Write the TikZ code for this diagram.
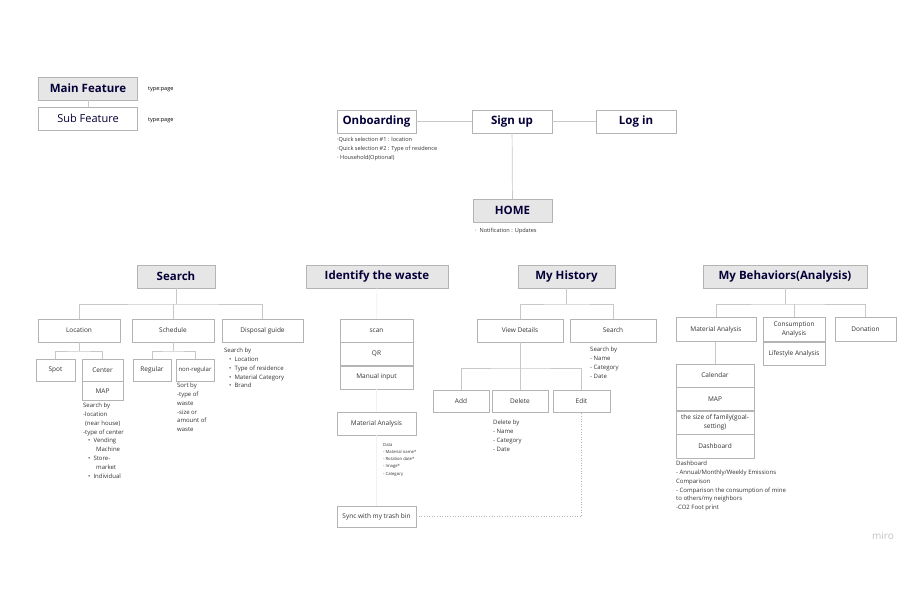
\documentclass[tikz,border=0pt]{standalone}
\usepackage{fontspec}
\setmainfont{Open Sans}
\usetikzlibrary{positioning}
\definecolor{headfill}{HTML}{E6E6E6}
\definecolor{boxgray}{HTML}{B4B4B4}
\definecolor{linegray}{HTML}{C8C8C8}
\definecolor{faintgray}{HTML}{F1F1F1}
\definecolor{navy}{HTML}{050038}
\definecolor{bodytext}{HTML}{333333}
\newcommand{\fs}[2]{\fontsize{#1}{#2}\selectfont}

\begin{document}
\begin{tikzpicture}[x=1pt,y=-1pt,
  mainbox/.style={rectangle, draw=boxgray, fill=headfill, text=navy, inner sep=0pt, minimum height=23pt, font=\fs{11.5}{13}\bfseries},
  pagebox/.style={rectangle, draw=boxgray, fill=white, text=navy, inner sep=0pt, minimum height=23pt, font=\fs{11.5}{13}\bfseries},
  leaf/.style={rectangle, draw=boxgray, fill=white, text=bodytext, inner sep=0pt, minimum height=23pt, align=center, font=\fs{6.5}{8}},
  note/.style={anchor=north west, align=left, inner sep=0pt, text=bodytext, font=\fs{6}{8.8}},
  tinynote/.style={note, font=\fs{5.6}{9}},
  link/.style={draw=linegray, line width=0.7pt},
  faint/.style={draw=faintgray, line width=0.7pt}]
\useasboundingbox[fill=white] (0,0) rectangle (920,600);

% legend
\node[mainbox, minimum width=99pt] (mainfeat) at (88,88.5) {Main Feature};
\node[leaf, minimum width=99pt, font=\fs{11}{13}, text=navy] (subfeat) at (88,118.5) {Sub Feature};
\draw[link] (mainfeat) -- (subfeat);
\node[anchor=west, inner sep=0pt, font=\fs{5.5}{6}] (typemain) at (148,89.5) {type:page};
\node[anchor=west, inner sep=0pt, font=\fs{5.5}{6}] (typesub) at (148,120.5) {type:page};

% entry
\node[pagebox, minimum width=79pt] (onboard) at (376.5,121.5) {Onboarding};
\node[pagebox, minimum width=80pt] (signup) at (512,121.5) {Sign up};
\node[pagebox, minimum width=80pt] (login) at (636,121.5) {Log in};
\node[mainbox, minimum width=79pt] (home) at (512.5,210.5) {HOME};
\draw[link] (onboard) -- (signup) -- (login);
\draw[link] (signup) -- (home);
\node[tinynote] (onboardnote) at (337,137) {·Quick selection \#1 : location\\·Quick selection \#2 : Type of residence\\· Household(Optional)};
\node[tinynote] (homenote) at (475,228) {· \ Notification : Updates};

% main features
\node[mainbox, minimum width=78pt] (search) at (176,276.5) {Search};
\node[mainbox, minimum width=142pt] (identify) at (377,276.5) {Identify the waste};
\node[mainbox, minimum width=97pt] (history) at (566.5,276.5) {My History};
\node[mainbox, minimum width=164pt] (behav) at (785,276.5) {My Behaviors(Analysis)};

% search
\node[leaf, minimum width=82pt] (location) at (79,330.5) {Location};
\node[leaf, minimum width=82pt] (schedule) at (173,330.5) {Schedule};
\node[leaf, minimum width=81pt] (disposal) at (262.5,330.5) {Disposal guide};
\coordinate (sbus) at (176,304);
\draw[link] (search) -- (sbus);
\draw[link] (location) |- (sbus) -| (disposal);
\draw[link] (schedule) -- (schedule |- sbus);
\node[leaf, minimum width=39pt, minimum height=22pt] (spot) at (55.5,370) {Spot};
\node[leaf, minimum width=41pt, minimum height=22pt] (center) at (102.5,370) {Center};
\node[leaf, minimum width=41pt, minimum height=19pt, below=0pt of center] (centermap) {MAP};
\node[leaf, minimum width=38pt, minimum height=22pt] (regular) at (152,370) {Regular};
\node[leaf, minimum width=38pt, minimum height=22pt, font=\fs{6}{8}] (nonreg) at (195,370) {non-regular};
\coordinate (lbus) at (79,351);
\draw[link] (location) -- (lbus);
\draw[link] (spot) |- (lbus) -| (center);
\coordinate (rbus) at (173,351);
\draw[link] (schedule) -- (rbus);
\draw[link] (regular) |- (rbus) -| (nonreg);
\node[note] (centernote) at (83,403) {Search by\\-location\\\hspace*{2pt}(near house)\\-type of center\\\hspace*{5pt}• \ Vending\\\hspace*{13pt}Machine\\\hspace*{5pt}• \ Store-\\\hspace*{13pt}market\\\hspace*{5pt}• \ Individual};
\node[note] (nonregnote) at (177,383) {Sort by\\-type of\\waste\\-size or\\amount of\\waste};
\node[note] (disposalnote) at (224,348) {Search by\\\hspace*{5pt}• \ Location\\\hspace*{5pt}• \ Type of residence\\\hspace*{5pt}• \ Material Category\\\hspace*{5pt}• \ Brand};

% identify the waste
\node[leaf, minimum width=73pt] (scan) at (376.5,330.5) {scan};
\node[leaf, minimum width=73pt, below=0pt of scan] (qr) {QR};
\node[leaf, minimum width=73pt, below=0pt of qr] (manual) {Manual input};
\node[leaf, minimum width=79pt] (imatanal) at (376.5,423.5) {Material Analysis};
\node[leaf, minimum width=79pt, minimum height=21pt] (sync) at (376.5,516.5) {Sync with my trash bin};
\draw[faint] (identify) -- (scan);
\draw[faint] (manual) -- (imatanal) -- (sync);
\node[note, font=\fs{4.2}{7.2}] (datanote) at (383,443) {Data\\- Material name*\\- Rotation date*\\- Image*\\- Category};

% my history
\node[leaf, minimum width=86pt] (viewdet) at (520,330.5) {View Details};
\node[leaf, minimum width=86pt] (hsearch) at (613,330.5) {Search};
\coordinate (hbus) at (566.5,304);
\draw[link] (history) -- (hbus);
\draw[link] (viewdet) |- (hbus) -| (hsearch);
\node[leaf, minimum width=56pt, minimum height=22pt] (add) at (461,401) {Add};
\node[leaf, minimum width=56pt, minimum height=22pt] (delete) at (520,401) {Delete};
\node[leaf, minimum width=57pt, minimum height=22pt] (edit) at (581.5,401) {Edit};
\coordinate (vbus) at (520,368);
\draw[link] (viewdet) -- (vbus);
\draw[link] (add) |- (vbus) -| (edit);
\draw[link] (delete) -- (vbus);
\draw[draw=boxgray, line width=0.6pt, dotted] (sync) -| (edit);
\node[note] (hsearchnote) at (590,347) {Search by\\- Name\\- Category\\- Date};
\node[note] (deletenote) at (493,420) {Delete by\\- Name\\- Category\\- Date};

% my behaviors
\node[leaf, minimum width=80pt, minimum height=24pt] (bmatanal) at (716,329.5) {Material Analysis};
\node[leaf, minimum width=62pt, minimum height=24pt, font=\fs{6.5}{8.5}] (consum) at (794,329.5) {Consumption\\Analysis};
\node[leaf, minimum width=61pt, minimum height=24pt] (donation) at (865.5,329.5) {Donation};
\node[leaf, minimum width=62pt, below=0pt of consum] (lifestyle) {Lifestyle Analysis};
\coordinate (bbus) at (785,304);
\draw[link] (behav) -- (bbus);
\draw[link] (bmatanal) |- (bbus) -| (donation);
\draw[link] (consum) -- (consum |- bbus);
\node[leaf, minimum width=78pt] (calendar) at (715,375.5) {Calendar};
\node[leaf, minimum width=78pt, below=0pt of calendar] (bmap) {MAP};
\node[leaf, minimum width=78pt, below=0pt of bmap, font=\fs{6.5}{8.5}] (famsize) {the size of family(goal-\\setting)};
\node[leaf, minimum width=78pt, minimum height=24pt, below=0pt of famsize] (dashb) {Dashboard};
\draw[link] (bmatanal.south -| calendar) -- (calendar);
\node[note] (dashnote) at (676,461) {Dashboard\\- Annual/Monthly/Weekly Emissions\\Comparison\\- Comparison the consumption of mine\\to others/my neighbors\\-CO2 Foot print};

\node[text=boxgray!80, inner sep=0pt, font=\fs{10}{12}] (miro) at (883,536) {miro};
\end{tikzpicture}
\end{document}
